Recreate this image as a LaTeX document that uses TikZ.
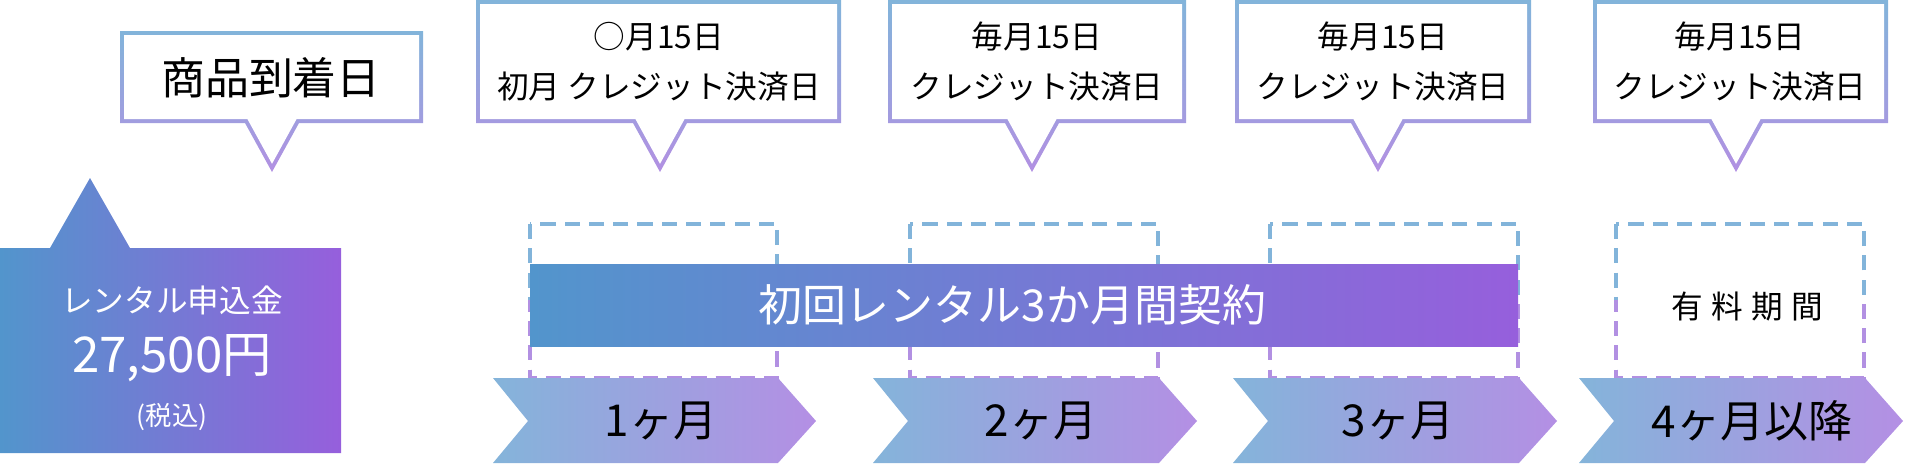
\documentclass[tikz,border=0pt]{standalone}
\usepackage{fontspec}
\setmainfont{Noto Sans CJK JP}

\definecolor{barblue}{HTML}{5295CC}
\definecolor{barpurple}{HTML}{965FDC}
\definecolor{arrblue}{HTML}{84B4DA}
\definecolor{arrpurple}{HTML}{B48FE4}
\definecolor{lineblue}{HTML}{82B4DA}
\definecolor{linepurple}{HTML}{B290E2}

\tikzset{
  balloontext/.style={align=center, text=black, font=\fontsize{9}{14.2}\selectfont},
  bigtext/.style={text=black, font=\fontsize{12.5}{15}\selectfont},
  whitetext/.style={text=white, align=center},
  dashbox/.style={line width=1pt, dash pattern=on 4.3pt off 2.6pt},
}

\begin{document}
\begin{tikzpicture}[x=0.01cm,y=-0.01cm]

	\useasboundingbox (0,0) rectangle (1906,466);

	% Recuadros punteados
	\foreach \l/\r in {530/777, 910/1158, 1270/1518, 1616/1864}{
		\draw[dashbox, lineblue] (\l,224) rectangle (\r,378);
		\begin{scope}
			\clip (\l-5,300) rectangle (\r+5,380);
			\draw[dashbox, linepurple] (\l,224) rectangle (\r,378);
		\end{scope}
	}

	% Globos de texto (borde degradado)
	\foreach \l/\r/\t/\c in {120/423/31/272, 476/841/0/660, 888/1186/0/1032, 1235/1531/0/1378, 1593/1888/0/1736}{
		\shade[top color=lineblue, bottom color=linepurple]
			(\l,\t) -- (\r,\t) -- (\r,123) -- (\c+27,123) -- (\c,172) -- (\c-27,123) -- (\l,123) -- cycle;
		\fill[white]
			(\l+4,\t+4) -- (\r-4,\t+4) -- (\r-4,119) -- (\c+24.6,119) -- (\c,163.8) -- (\c-24.6,119) -- (\l+4,119) -- cycle;
	}

	% Caja del pago inicial
	\shade[left color=barblue, right color=barpurple]
		(0,248) -- (50,248) -- (90,178) -- (130,248) -- (341,248) -- (341,453) -- (0,453) -- cycle;

	% Barra del contrato
	\shade[left color=barblue, right color=barpurple] (530,264) rectangle (1518,346);

	% Flechas de los meses
	\foreach \l/\r in {530/777, 910/1158, 1270/1518, 1616/1864}{
		\shade[left color=arrblue, right color=arrpurple]
			(\l-37,378) -- (\r+1,378) -- (\r+39,421) -- (\r+1,463) -- (\l-37,463) -- (\l-2,421) -- cycle;
	}

	% Textos
	\node[bigtext] (arrival) at (271,78) {商品到着日};
	\node[balloontext] (pay1) at (659,62) {○月15日\\初月 クレジット決済日};
	\node[balloontext] (pay2) at (1037,62) {毎月15日\\クレジット決済日};
	\node[balloontext] (pay3) at (1383,62) {毎月15日\\クレジット決済日};
	\node[balloontext] (pay4) at (1740,62) {毎月15日\\クレジット決済日};

	\node[whitetext, font=\fontsize{9}{11}\selectfont] (fee) at (172,300) {レンタル申込金};
	\node[whitetext, font=\fontsize{14}{16}\selectfont] (price) at (172,358) {27,500円};
	\node[whitetext, font=\fontsize{7.5}{9}\selectfont] (tax) at (172,417) {(税込)};

	\node[whitetext, font=\fontsize{12.5}{15}\selectfont] (contract) at (1012,305) {初回レンタル3か月間契約};
	\node[balloontext] (paid) at (1747,307) {有\hspace{2.4pt}料\hspace{2.4pt}期\hspace{2.4pt}間};

	\node[bigtext] (month1) at (661,421) {1ヶ月};
	\node[bigtext] (month2) at (1041,421) {2ヶ月};
	\node[bigtext] (month3) at (1398,421) {3ヶ月};
	\node[bigtext] (month4) at (1752,421) {4ヶ月以降};

\end{tikzpicture}
\end{document}
